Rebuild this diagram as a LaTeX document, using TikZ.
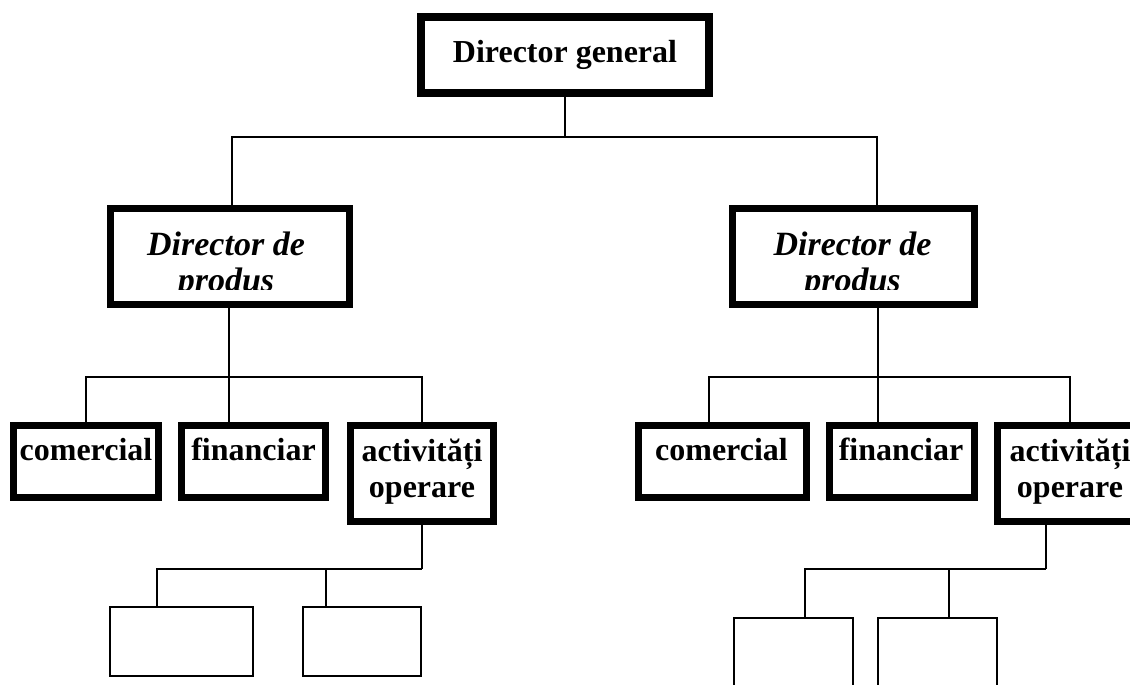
\documentclass[tikz,border=0pt]{standalone}
\usepackage{fontspec}
\setmainfont{Liberation Serif}
\begin{document}
\begin{tikzpicture}[x=1pt,y=-1pt,
  every node/.style={inner sep=0pt, outer sep=0pt},
  topbox/.style={draw, line width=8pt, fill=white, rectangle},
  unitbox/.style={draw, line width=7pt, fill=white, rectangle},
  subbox/.style={draw, line width=2pt, fill=white, rectangle},
  conn/.style={line width=1.7pt},
  lbl/.style={anchor=base, font=\fontsize{32}{36}\selectfont\bfseries},
  lbli/.style={anchor=base, font=\fontsize{34}{36}\selectfont\bfseries\itshape}]
\clip (0,0) rectangle (1130,685);
\fill[white] (0,0) rectangle (1130,685);

% junction points of the connector buses
\coordinate (b1) at (565,137);
\coordinate (b2) at (229,377);
\coordinate (b3) at (878,377);
\coordinate (b4) at (422,569);
\coordinate (b5) at (1046,569);

% boxes
\node[topbox, minimum width=288pt, minimum height=76pt] (dg) at (565,55) {};
\node[unitbox, minimum width=239pt, minimum height=96pt] (dpL) at (230,256.5) {};
\node[unitbox, minimum width=242pt, minimum height=96pt] (dpR) at (853.5,256.5) {};
\node[unitbox, minimum width=145pt, minimum height=72pt] (comL) at (86,461.5) {};
\node[unitbox, minimum width=144pt, minimum height=72pt] (finL) at (253.5,461.5) {};
\node[unitbox, minimum width=143pt, minimum height=96pt] (actL) at (422,473.5) {};
\node[unitbox, minimum width=168pt, minimum height=72pt] (comR) at (722.5,461.5) {};
\node[unitbox, minimum width=145pt, minimum height=72pt] (finR) at (902,461.5) {};
\node[unitbox, minimum width=145pt, minimum height=96pt] (actR) at (1070,473.5) {};
\node[subbox, minimum width=143pt, minimum height=69pt] (sL1) at (181.5,641.5) {};
\node[subbox, minimum width=118pt, minimum height=69pt] (sL2) at (362,641.5) {};
\node[subbox, minimum width=119pt, minimum height=82pt] (sR1) at (793.5,659) {};
\node[subbox, minimum width=119pt, minimum height=82pt] (sR2) at (937.5,659) {};

% connectors
\draw[conn] (dg.south) -- (b1);
\draw[conn] ([xshift=2pt]dpL.north) |- (b1);
\draw[conn] ([xshift=23.5pt]dpR.north) |- (b1);

\draw[conn] ([xshift=-1pt]dpL.south) -- (b2);
\draw[conn] (comL.north) |- (b2);
\draw[conn] ([xshift=-24.5pt]finL.north) -- (b2);
\draw[conn] (actL.north) |- (b2);

\draw[conn] ([xshift=24.5pt]dpR.south) -- (b3);
\draw[conn] ([xshift=-13.5pt]comR.north) |- (b3);
\draw[conn] ([xshift=-24pt]finR.north) -- (b3);
\draw[conn] (actR.north) |- (b3);

\draw[conn] (actL.south) -- (b4);
\draw[conn] ([xshift=-24.5pt]sL1.north) |- (b4);
\draw[conn] ([xshift=-36pt]sL2.north) |- (b4);

\draw[conn] ([xshift=-24pt]actR.south) -- (b5);
\draw[conn] ([xshift=11.5pt]sR1.north) |- (b5);
\draw[conn] ([xshift=11.5pt]sR2.north) |- (b5);

% redraw box outlines over the connector ends
\foreach \n/\w in {dg/8,dpL/7,dpR/7,comL/7,finL/7,actL/7,comR/7,finR/7,actR/7,sL1/2,sL2/2,sR1/2,sR2/2}
  \draw[line width=\w pt] (\n.north west) rectangle (\n.south east);

% labels
\node[lbl] (dgT) at (565,63) {Director general};
\begin{scope}
  \clip (108.5,208.5) rectangle (347.5,289);
  \node[lbli] (dpLa) at (226,255) {Director de};
  \node[lbli] (dpLb) at (226,291) {produs};
\end{scope}
\begin{scope}
  \clip (732.5,208.5) rectangle (974.5,289);
  \node[lbli] (dpRa) at (852.5,255) {Director de};
  \node[lbli] (dpRb) at (852.5,291) {produs};
\end{scope}
\node[lbl] (comLT) at (86,460) {comercial};
\node[lbl] (finLT) at (253.5,460) {financiar};
\node[lbl] (actLa) at (422,461) {activități};
\node[lbl] (actLb) at (422,497) {operare};
\node[lbl] (comRT) at (721.5,460) {comercial};
\node[lbl] (finRT) at (901,460) {financiar};
\node[lbl] (actRa) at (1070,461) {activități};
\node[lbl] (actRb) at (1070,497) {operare};
\end{tikzpicture}
\end{document}
